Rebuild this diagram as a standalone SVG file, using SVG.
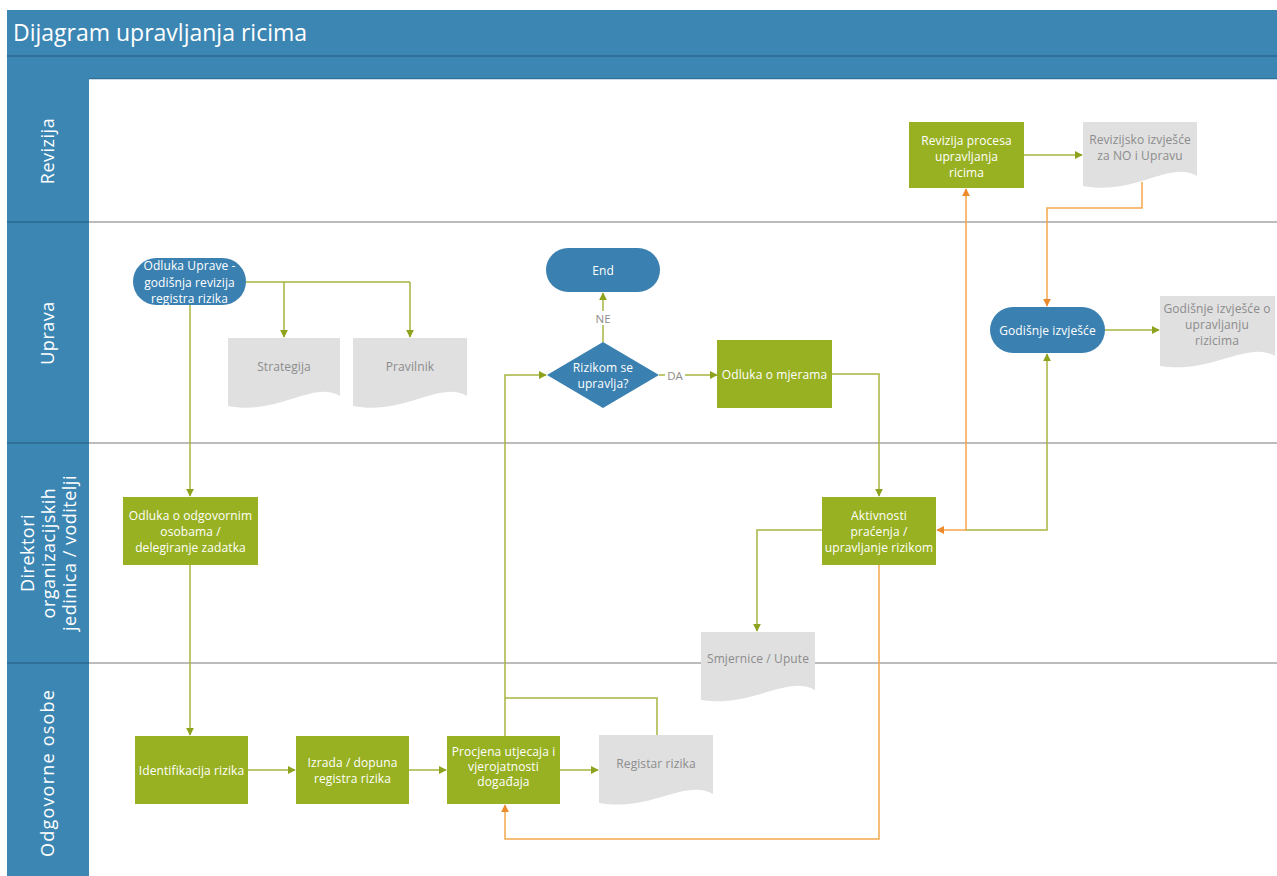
<svg xmlns="http://www.w3.org/2000/svg" width="1277" height="876" viewBox="0 0 1277 876">
<defs>
<style>
.band{fill:#3c86b4}
.dark{fill:#2f6f98}
.sep{stroke:#bcbcbc;stroke-width:2;fill:none}
.lane{font-family:"Open Sans","Noto Sans",sans-serif;font-size:18px;fill:#ffffff;text-anchor:middle;dominant-baseline:central;letter-spacing:0.5px}
.title{font-family:"Open Sans","Noto Sans",sans-serif;font-size:23px;fill:#ffffff}
.box{fill:#98b122}
.blue{fill:#3a80b0}
.doc{fill:#e0e0e0}
.t{font-family:"Open Sans","Noto Sans",sans-serif;font-size:12px;fill:#ffffff;text-anchor:middle;dominant-baseline:central;letter-spacing:0.1px}
.dt{font-family:"Open Sans","Noto Sans",sans-serif;font-size:12px;fill:#8c8c8c;text-anchor:middle;dominant-baseline:central;letter-spacing:0.1px}
.lbl{font-family:"Open Sans","Noto Sans",sans-serif;font-size:11.5px;fill:#8c8c8c;text-anchor:middle;dominant-baseline:central}
.cg{stroke:#a6b540;stroke-width:1.5;fill:none;marker-end:url(#ag)}
.cgn{stroke:#a6b540;stroke-width:1.5;fill:none}
.co{stroke:#f3a64c;stroke-width:1.5;fill:none;marker-end:url(#ao)}
</style>
<marker id="ag" viewBox="0 0 10 10" refX="9" refY="5" markerWidth="8" markerHeight="8" markerUnits="userSpaceOnUse" orient="auto"><path d="M0,0 L10,5 L0,10 z" fill="#8fa21e"/></marker>
<marker id="ao" viewBox="0 0 10 10" refX="9" refY="5" markerWidth="8" markerHeight="8" markerUnits="userSpaceOnUse" orient="auto-start-reverse"><path d="M0,0 L10,5 L0,10 z" fill="#ec8a2c"/></marker>
</defs>

<g id="pool">
<rect x="7" y="10" width="1270" height="45" class="band"/>
<rect x="7" y="55" width="1270" height="2" class="dark"/>
<rect x="7" y="57" width="1270" height="21" class="band"/>
<rect x="7" y="78" width="1270" height="1.5" class="dark"/>
<rect x="7" y="78" width="82" height="798" class="band"/>
<rect x="89" y="79.5" width="1188" height="796.5" fill="#ffffff"/>
<text x="13" y="41" class="title">Dijagram upravljanja ricima</text>
</g>

<g id="lanes">
<line x1="89" y1="222" x2="1277" y2="222" class="sep"/>
<line x1="89" y1="443" x2="1277" y2="443" class="sep"/>
<line x1="89" y1="663" x2="1277" y2="663" class="sep"/>
<rect x="7" y="221" width="82" height="2" class="dark"/>
<rect x="7" y="442" width="82" height="2" class="dark"/>
<rect x="7" y="662" width="82" height="2" class="dark"/>
<text class="lane" transform="translate(47,151) rotate(-90)">Revizija</text>
<text class="lane" transform="translate(47,333) rotate(-90)">Uprava</text>
<text class="lane" transform="translate(48,553) rotate(-90)"><tspan x="0" y="-21">Direktori</tspan><tspan x="0" y="0">organizacijskih</tspan><tspan x="0" y="21">jedinica / voditelji</tspan></text>
<text class="lane" transform="translate(47,773) rotate(-90)" style="letter-spacing:1.2px">Odgovorne osobe</text>
</g>

<g id="connectors">
<path class="cg" d="M1024,155 H1082"/>
<path class="cgn" d="M245,282 H410"/>
<path class="cg" d="M410,282 V337"/>
<path class="cg" d="M284,282 V337"/>
<path class="cg" d="M190,305 V496"/>
<path class="cg" d="M190,565 V735"/>
<path class="cg" d="M248,770 H295"/>
<path class="cg" d="M409,770 H446"/>
<path class="cg" d="M560,770 H598"/>
<path class="cg" d="M505,736 V375 H546"/>
<path class="cgn" d="M657,735 V698 H505"/>
<path class="cg" d="M603,342 V293"/>
<path class="cg" d="M659,375 H717"/>
<path class="cg" d="M832,374 H879 V496"/>
<path class="cg" d="M822,530 H757 V631"/>
<path class="cg" d="M966,530 H1047 V354"/>
<path class="co" style="marker-start:url(#ao)" d="M966,189 V530 H937"/>
<path class="co" d="M1142,182 V208 H1047 V306"/>
<path class="co" d="M879,565 V839 H505 V805"/>
<path class="cg" d="M1105,330 H1159"/>
<rect x="592" y="311" width="22" height="14" fill="#ffffff"/>
<text x="603" y="318" class="lbl">NE</text>
<rect x="665" y="368" width="20" height="14" fill="#ffffff"/>
<text x="675" y="375" class="lbl">DA</text>
</g>

<g id="n-revizija-procesa">
<rect x="909" y="122" width="115" height="66" class="box"/>
<text class="t" x="966.5" y="140">Revizija procesa</text>
<text class="t" x="966.5" y="156">upravljanja</text>
<text class="t" x="966.5" y="172">ricima</text>
</g>

<g id="n-revizijsko-izvjesce">
<path class="doc" d="M1083,122 H1197 V176 C1170,160 1135,196 1083,186 Z"/>
<text class="dt" x="1140" y="139">Revizijsko izvješće</text>
<text class="dt" x="1140" y="155">za NO i Upravu</text>
</g>

<g id="n-odluka-uprave">
<rect x="133" y="258" width="113" height="47" rx="23.5" class="blue"/>
<text class="t" x="189.5" y="265">Odluka Uprave -</text>
<text class="t" x="189.5" y="282">godišnja revizija</text>
<text class="t" x="189.5" y="298">registra rizika</text>
</g>

<g id="n-strategija">
<path class="doc" d="M228,338 H340 V396 C313,380 278,416 228,406 Z"/>
<text class="dt" x="284" y="366">Strategija</text>
</g>

<g id="n-pravilnik">
<path class="doc" d="M353,338 H467 V396 C440,380 404,416 353,406 Z"/>
<text class="dt" x="410" y="366">Pravilnik</text>
</g>

<g id="n-end">
<rect x="546" y="248" width="114" height="44" rx="22" class="blue"/>
<text class="t" x="603" y="270">End</text>
</g>

<g id="n-rizikom">
<polygon points="603,342 659,375 603,408 547,375" class="blue"/>
<text class="t" x="603" y="367">Rizikom se</text>
<text class="t" x="603" y="383">upravlja?</text>
</g>

<g id="n-odluka-mjere">
<rect x="717" y="340" width="115" height="68" class="box"/>
<text class="t" x="774.5" y="374">Odluka o mjerama</text>
</g>

<g id="n-godisnje-izvjesce">
<rect x="990" y="307" width="115" height="46" rx="23" class="blue"/>
<text class="t" x="1047.5" y="330">Godišnje izvješće</text>
</g>

<g id="n-godisnje-doc">
<path class="doc" d="M1160,296 H1275 V356 C1248,340 1212,374 1160,366 Z"/>
<text class="dt" x="1217" y="308">Godišnje izvješće o</text>
<text class="dt" x="1217" y="324">upravljanju</text>
<text class="dt" x="1217" y="340">rizicima</text>
</g>

<g id="n-odluka-osobe">
<rect x="123" y="497" width="135" height="68" class="box"/>
<text class="t" x="190.5" y="515">Odluka o odgovornim</text>
<text class="t" x="190.5" y="531">osobama /</text>
<text class="t" x="190.5" y="547">delegiranje zadatka</text>
</g>

<g id="n-aktivnosti">
<rect x="822" y="497" width="114" height="68" class="box"/>
<text class="t" x="879" y="515">Aktivnosti</text>
<text class="t" x="879" y="531">praćenja /</text>
<text class="t" x="879" y="547">upravljanje rizikom</text>
</g>

<g id="n-smjernice">
<path class="doc" d="M701,632 H815 V690 C788,674 752,708 701,700 Z"/>
<text class="dt" x="758" y="658">Smjernice / Upute</text>
</g>

<g id="n-identifikacija">
<rect x="135" y="736" width="113" height="68" class="box"/>
<text class="t" x="191.5" y="770">Identifikacija rizika</text>
</g>

<g id="n-izrada">
<rect x="296" y="736" width="113" height="68" class="box"/>
<text class="t" x="352.5" y="762">Izrada / dopuna</text>
<text class="t" x="352.5" y="778">registra rizika</text>
</g>

<g id="n-procjena">
<rect x="447" y="736" width="113" height="68" class="box"/>
<text class="t" x="503.5" y="751">Procjena utjecaja i</text>
<text class="t" x="503.5" y="766">vjerojatnosti</text>
<text class="t" x="503.5" y="781">događaja</text>
</g>

<g id="n-registar">
<path class="doc" d="M599,735 H713 V794 C686,778 650,812 599,803 Z"/>
<text class="dt" x="656" y="763">Registar rizika</text>
</g>
</svg>
